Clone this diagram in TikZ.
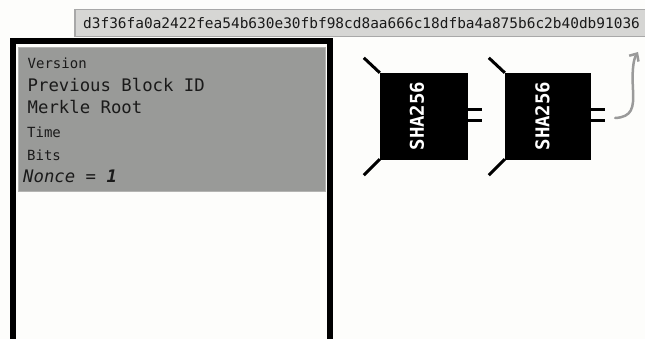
\documentclass[tikz,border=0pt]{standalone}
\usepackage{fontspec}
\setmonofont{DejaVu Sans Mono}
\newfontfamily\shafont{DejaVu Sans Mono Bold}
\usetikzlibrary{arrows.meta,calc}
\definecolor{bgc}{HTML}{FDFDFB}
\definecolor{barfill}{HTML}{D6D6D4}
\definecolor{barline}{HTML}{A8A8A8}
\definecolor{boxfill}{HTML}{999A98}
\definecolor{boxline}{HTML}{B4B4B2}
\definecolor{txt}{HTML}{1A1A1A}
\definecolor{arrowc}{HTML}{9A9A9A}
\begin{document}
\begin{tikzpicture}[x=1pt,y=-1pt,
  small/.style={anchor=base west,inner sep=0pt,text=txt,font=\ttfamily\fontsize{14}{14}\selectfont},
  big/.style={anchor=base west,inner sep=0pt,text=txt,font=\ttfamily\fontsize{17.3}{17.3}\selectfont},
  shabox/.style={fill=black,draw=black,minimum width=86pt,minimum height=86pt,inner sep=0pt},
  shatext/.style={text=white,rotate=90,inner sep=0pt,font=\shafont\fontsize{19}{19}\selectfont},
  leg/.style={line width=3pt,black},
  prong/.style={line width=3pt,black}]
\useasboundingbox (0,0) rectangle (645,339);
\clip (0,0) rectangle (645,339);
\fill[bgc] (0,0) rectangle (645,339);
% hash bar
\node[draw=barline,fill=barfill,line width=1.5pt,minimum width=580pt,minimum height=27pt,anchor=north west,inner sep=0pt] (bar) at (74,9) {};
\node[anchor=base west,inner sep=0pt,text=txt,font=\ttfamily\fontsize{14.45}{14.45}\selectfont] (hash) at (83,28.5) {d3f36fa0a2422fea54b630e30fbf98cd8aa666c18dfba4a875b6c2b40db91036};
% block frame
\draw[line width=6pt,black] (13,360) -- (13,41) -- (330,41) -- (330,360);
\node[draw=boxline,fill=boxfill,line width=1pt,anchor=north west,minimum width=307pt,minimum height=144pt,inner sep=0pt] (header) at (18,47) {};
\node[small] (version) at (27.5,69) {Version};
\node[big] (prev) at (27.5,92) {Previous Block ID};
\node[big] (merkle) at (27.5,114) {Merkle Root};
\node[small] (time) at (27,137.5) {Time};
\node[small] (bits) at (27,160.5) {Bits};
\node[big] (nonce) at (23,183) {\itshape Nonce = \textbf{1}};
% SHA256 boxes
\node[shabox,minimum width=87pt] (b1) at (423.5,116) {};
\node[shatext] (t1) at ([xshift=-6.5pt]b1.center) {SHA256};
\node[shabox,minimum width=85pt] (b2) at (547.5,116) {};
\node[shatext] (t2) at ([xshift=-5pt]b2.center) {SHA256};
\foreach \b in {b1,b2}{
  \draw[leg] (\b.north west) -- ++(-16,-15);
  \draw[leg] (\b.south west) -- ++(-16,16);
  \draw[prong] ($(\b.east)+(0,-6)$) -- ++(14.5,0);
  \draw[prong] ($(\b.east)+(0,5)$) -- ++(14.5,0);
}
\coordinate (out) at (638,52);
\draw[arrowc,line width=2.5pt,line cap=round,-{Straight Barb[length=6pt,width=11pt]}] ($(b2.east)+(25,2)$) .. controls (632,117) and (634,108) .. (633,90) .. controls (632,72) and (633,60) .. (out);
\end{tikzpicture}
\end{document}
